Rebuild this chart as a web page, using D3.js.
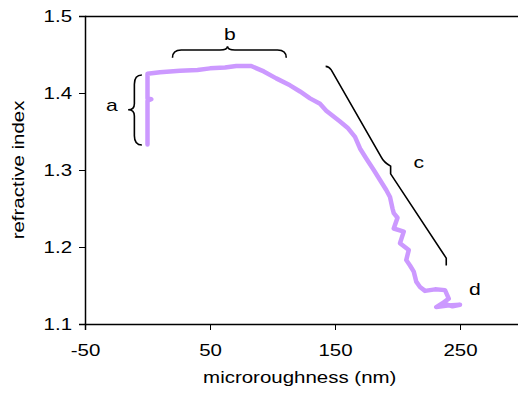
<!DOCTYPE html>
<meta charset="utf-8">
<script src="https://d3js.org/d3.v7.min.js"></script>
<style>
  body { margin: 0; background: #fff; }
  svg text { font-family: 'Liberation Sans', Arial, sans-serif; fill: #000; }
</style>
<body>
<div id="chart"></div>
<script>

// measured curve: microroughness (nm) vs refractive index
var roughness = [0, 0, 0, 3, 0, 0, 0, 10, 26, 40, 50, 62, 71, 83, 93, 103, 114, 122, 130, 138,
  143, 154, 160, 166, 170, 175, 181, 186, 191, 194, 196, 197, 200, 197, 205, 202, 209, 207,
  210, 213, 215, 218, 222, 230, 238, 241, 236, 231, 240, 250, 244, 238];
var index = [1.333, 1.36, 1.39, 1.392, 1.393, 1.41, 1.425, 1.427, 1.429, 1.430, 1.432, 1.433,
  1.435, 1.435, 1.428, 1.419, 1.410, 1.402, 1.393, 1.386, 1.377, 1.363, 1.355, 1.343, 1.328,
  1.315, 1.300, 1.287, 1.274, 1.265, 1.250, 1.244, 1.238, 1.224, 1.220, 1.205, 1.196, 1.183,
  1.176, 1.168, 1.155, 1.148, 1.143, 1.145, 1.144, 1.133, 1.127, 1.122, 1.124, 1.125, 1.123, 1.126];

var xTicks = [-50, 50, 150, 250];
var yTicks = [1.1, 1.2, 1.3, 1.4, 1.5];

// annotation labels and their positions (data units)
var labels = ["a", "b", "c", "d"];
var labelX = [-28.5, 66, 217, 262];
var labelY = [1.385, 1.477, 1.310, 1.146];

var margin = {top: 16, right: -4.5, bottom: 69, left: 85},
    width = 518 - margin.left - margin.right,
    height = 393 - margin.top - margin.bottom;

var svg = d3.select("#chart")
  .append("svg")
    .attr("width", 518)
    .attr("height", 393)
  .append("g")
    .attr("transform", "translate(" + margin.left + "," + margin.top + ")");

var x = d3.scaleLinear().domain([-50, 300]).range([0, width]);
var y = d3.scaleLinear().domain([1.1, 1.5]).range([height, 0]);

// top border
svg.append("line")
  .attr("x1", 0).attr("x2", width).attr("y1", 0.5).attr("y2", 0.5)
  .attr("stroke", "#000").attr("stroke-width", 1.5);

var xAxis = svg.append("g")
  .attr("transform", "translate(0," + height + ")")
  .call(d3.axisBottom(x).tickValues(xTicks).tickSize(6).tickPadding(14).tickFormat(function(d) { return String(d); }));
var yAxis = svg.append("g")
  .call(d3.axisLeft(y).tickValues(yTicks).tickSize(6).tickPadding(7).tickFormat(d3.format(".1f")));

[xAxis, yAxis].forEach(function(a) {
  a.select(".domain").attr("stroke", "#000").attr("stroke-width", 1.5);
  a.selectAll(".tick line").attr("stroke", "#000");
  a.selectAll("text").style("font-size", "16.5px").attr("fill", "#000");
});

svg.append("text")
  .attr("x", (x(300) + x(-50)) / 2 - 4)
  .attr("y", height + 59)
  .style("text-anchor", "middle")
  .style("font-size", "16.5px")
  .text("microroughness (nm)");

svg.append("text")
  .attr("transform", "rotate(-90)")
  .attr("x", -height / 2)
  .attr("y", -61)
  .style("text-anchor", "middle")
  .style("font-size", "16.5px")
  .text("refractive index");

var pts = roughness.map(function(d, i) { return [d, index[i]]; });

svg.append("path")
  .datum(pts)
  .attr("d", d3.line().x(function(d) { return x(d[0]); }).y(function(d) { return y(d[1]); }))
  .attr("fill", "none")
  .attr("stroke", "#cc99ff")
  .attr("stroke-width", 4.5)
  .attr("stroke-linejoin", "round")
  .attr("stroke-linecap", "round");

// brackets, built from data-unit anchors
function X(v) { return x(v); }
function Y(v) { return y(v); }

// a: left brace
var ax = -10.5, ay0 = 1.4234, ay1 = 1.3325, amid = 1.3782;
var braceA = d3.path();
braceA.moveTo(X(ax + 6), Y(ay0));
braceA.quadraticCurveTo(X(ax), Y(ay0), X(ax), Y(ay0 - 0.012));
braceA.lineTo(X(ax), Y(amid + 0.008));
braceA.quadraticCurveTo(X(ax), Y(amid), X(ax - 5), Y(amid));
braceA.quadraticCurveTo(X(ax), Y(amid), X(ax), Y(amid - 0.008));
braceA.lineTo(X(ax), Y(ay1 + 0.012));
braceA.quadraticCurveTo(X(ax), Y(ay1), X(ax + 6), Y(ay1));

// b: top brace
var by = 1.4558, bx0 = 20, bx1 = 111, bmid = 64;
var braceB = d3.path();
braceB.moveTo(X(bx0), Y(by - 0.010));
braceB.quadraticCurveTo(X(bx0), Y(by), X(bx0 + 7), Y(by));
braceB.lineTo(X(bmid - 6), Y(by));
braceB.quadraticCurveTo(X(bmid), Y(by), X(bmid), Y(by + 0.005));
braceB.quadraticCurveTo(X(bmid), Y(by), X(bmid + 6), Y(by));
braceB.lineTo(X(bx1 - 7), Y(by));
braceB.quadraticCurveTo(X(bx1), Y(by), X(bx1), Y(by - 0.010));

// c: slanted brace
var braceC = d3.path();
braceC.moveTo(X(142.5), Y(1.4346));
braceC.quadraticCurveTo(X(145), Y(1.4346), X(147), Y(1.430));
braceC.lineTo(X(187), Y(1.3167));
braceC.quadraticCurveTo(X(189), Y(1.310), X(194.5), Y(1.305));
braceC.lineTo(X(194.5), Y(1.295));
braceC.lineTo(X(239), Y(1.1855));
braceC.lineTo(X(239), Y(1.176));

[braceA, braceB, braceC].forEach(function(p) {
  svg.append("path")
    .attr("d", p.toString())
    .attr("fill", "none")
    .attr("stroke", "#000")
    .attr("stroke-width", 1.6);
});

svg.selectAll(".lbl")
  .data(labels)
  .enter()
  .append("text")
    .attr("class", "lbl")
    .attr("x", function(d, i) { return x(labelX[i]); })
    .attr("y", function(d, i) { return y(labelY[i]); })
    .attr("dy", "0.35em")
    .style("text-anchor", "middle")
    .style("font-size", "17px")
    .text(function(d) { return d; });

// the original text is rendered a little wider than Arial
svg.selectAll("text").each(function() {
  var w = this.getComputedTextLength();
  d3.select(this).attr("textLength", w * 1.24).attr("lengthAdjust", "spacingAndGlyphs");
});

</script>
</body>
